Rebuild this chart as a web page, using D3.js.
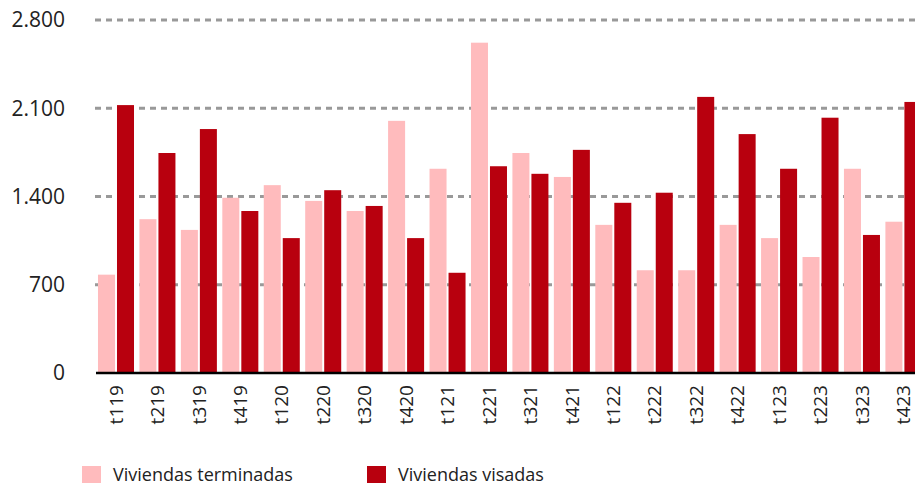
<!DOCTYPE html>
<html>
<head>
<meta charset="utf-8">
<script src="https://cdn.jsdelivr.net/npm/d3@7"></script>
<style>
  body { margin: 0; background: #fff; overflow: hidden; }
  text { font-family: "Open Sans", sans-serif; fill: #222; }
</style>
</head>
<body>
<svg id="chart" width="915" height="484" viewBox="0 0 915 484"></svg>
<script>
// trimestres
const quarters = ["t119","t219","t319","t419","t120","t220","t320","t420","t121","t221",
                  "t321","t421","t122","t222","t322","t422","t123","t223","t323","t423"]
const terminadas = [780,1220,1135,1390,1490,1365,1285,2000,1620,2620,
                    1745,1555,1175,815,815,1175,1070,920,1620,1200]
const visadas = [2125,1745,1935,1285,1070,1450,1325,1070,795,1640,
                 1580,1770,1350,1430,2190,1895,1620,2025,1095,2150]
const yTicks = [0,700,1400,2100,2800]
const seriesNames = ["Viviendas terminadas","Viviendas visadas"]
const colors = ["#ffbbbd","#b8000e"]

const svg = d3.select("#chart")

const y = d3.scaleLinear()
    .domain([0,2800])
    .range([373,20])

const x = d3.scaleBand()
    .domain(quarters)
    .range([96,923.4])
    .paddingInner(0.131)
    .paddingOuter(0.048)

const xs = d3.scaleBand()
    .domain([0,1])
    .range([0,x.bandwidth()])
    .paddingInner(0.105)

// grid
svg.append("g")
    .selectAll("line")
    .data(yTicks.filter(d => d > 0))
    .enter()
    .append("line")
    .attr("x1",95)
    .attr("x2",915)
    .attr("y1",d => y(d))
    .attr("y2",d => y(d))
    .attr("stroke","#999")
    .attr("stroke-width",3)
    .attr("stroke-dasharray","6 5")

// y labels
svg.append("g")
    .selectAll("text")
    .data(yTicks)
    .enter()
    .append("text")
    .attr("x",65)
    .attr("y",d => y(d))
    .attr("dy","0.35em")
    .attr("text-anchor","end")
    .style("font-size","21px")
    .text(d => d3.format(",")(d).replace(/,/g,"."))

// bars
const groups = svg.append("g")
    .selectAll("g")
    .data(quarters)
    .enter()
    .append("g")
    .attr("transform",d => `translate(${x(d)},0)`)

groups.selectAll("rect")
    .data((d,i) => [terminadas[i],visadas[i]])
    .enter()
    .append("rect")
    .attr("x",(d,j) => xs(j))
    .attr("width",xs.bandwidth())
    .attr("y",d => y(d))
    .attr("height",d => y(0) - y(d))
    .attr("fill",(d,j) => colors[j])

// base line
svg.append("line")
    .attr("x1",96)
    .attr("x2",915)
    .attr("y1",y(0))
    .attr("y2",y(0))
    .attr("stroke","#000")
    .attr("stroke-width",2.5)

// x labels
svg.append("g")
    .selectAll("text")
    .data(quarters)
    .enter()
    .append("text")
    .attr("transform",d => `translate(${x(d) + x.bandwidth()/2},385) rotate(-90)`)
    .attr("dy","0.35em")
    .attr("text-anchor","end")
    .style("font-size","19px")
    .text(d => d)

// legend
const legend = svg.append("g")
    .selectAll("g")
    .data(seriesNames)
    .enter()
    .append("g")
    .attr("transform",(d,i) => `translate(${82 + i*285},466)`)

legend.append("rect")
    .attr("width",19)
    .attr("height",17)
    .attr("fill",(d,i) => colors[i])

legend.append("text")
    .attr("x",31)
    .attr("y",9)
    .attr("dy","0.35em")
    .style("font-size","18px")
    .text(d => d)
</script>
</body>
</html>
